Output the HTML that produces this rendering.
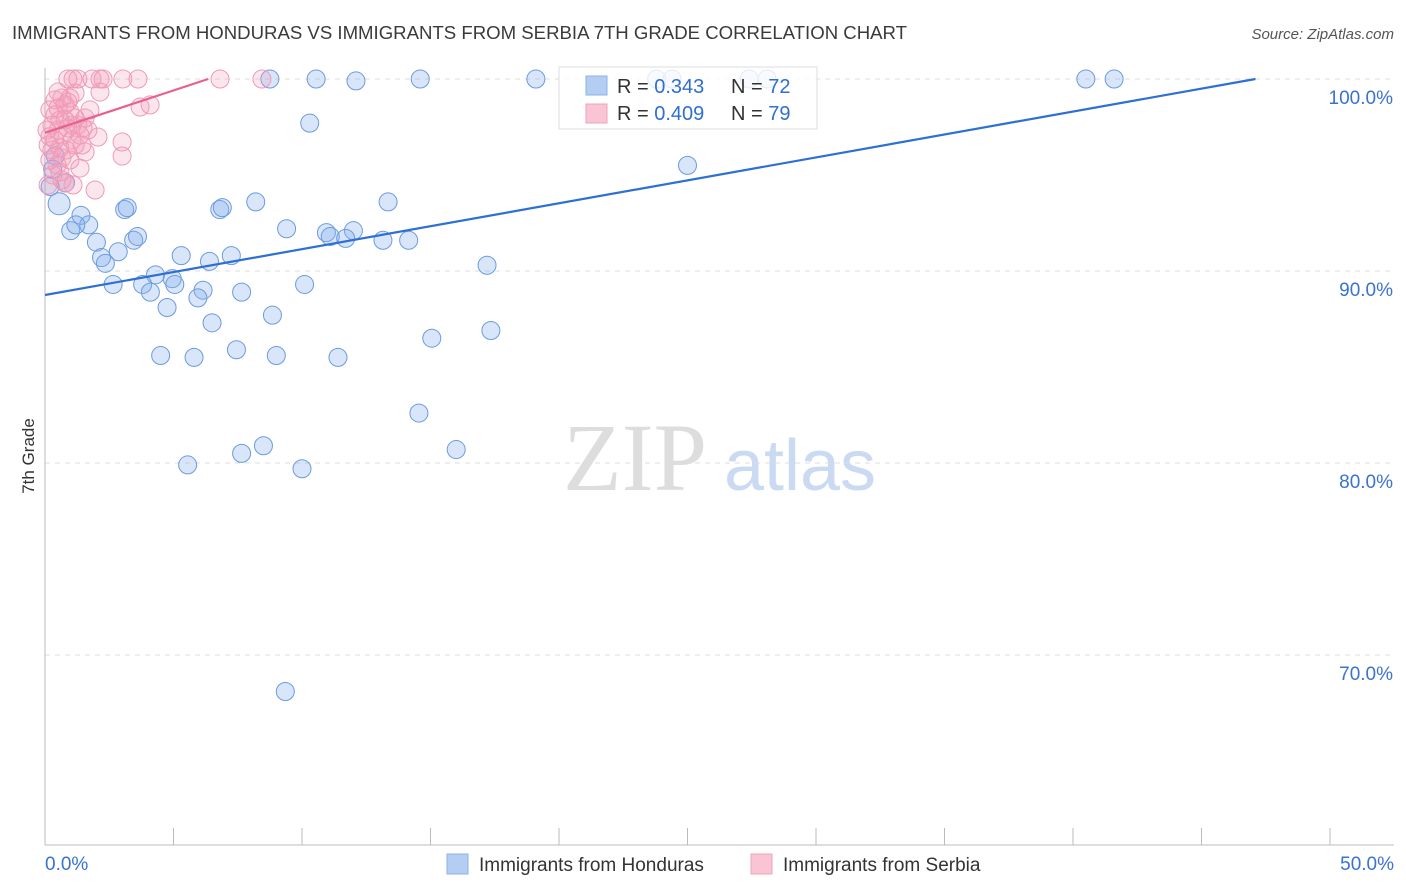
<!DOCTYPE html>
<html><head><meta charset="utf-8"><style>
body{margin:0;background:#fff;font-family:"Liberation Sans",sans-serif;}
svg{display:block}
</style></head><body>
<svg id="chart" width="1406" height="892">
<text x="12" y="39" font-size="18" textLength="895" lengthAdjust="spacingAndGlyphs" fill="#3a3a3a">IMMIGRANTS FROM HONDURAS VS IMMIGRANTS FROM SERBIA 7TH GRADE CORRELATION CHART</text>
<text x="1394" y="39" font-size="15" fill="#555" text-anchor="end" font-style="italic">Source: ZipAtlas.com</text>
<text x="0" y="0" transform="translate(34,456) rotate(-90)" font-size="17" fill="#333" text-anchor="middle">7th Grade</text>
<g><text x="635" y="490" font-size="96" font-family="Liberation Serif,serif" fill="#ddd" text-anchor="middle">ZIP</text><text x="800" y="490" font-size="72" fill="#c9daf2" text-anchor="middle">atlas</text></g>
<g id="grid"></g><g id="axes"></g><g id="pts"></g><g id="lines"></g>
<g>
<rect x="559" y="67" width="258" height="62" fill="rgba(255,255,255,0.8)" stroke="#ddd"/>
<rect x="586" y="76" width="21" height="19" fill="#b4cdf2" stroke="#8fb1e6"/>
<rect x="586" y="104" width="21" height="19" fill="#f9c4d4" stroke="#f0a3bc"/>
<text x="617" y="93" font-size="20" fill="#333">R = <tspan fill="#2f6fd0">0.343</tspan></text>
<text x="731" y="93" font-size="20" fill="#333">N = <tspan fill="#2f6fd0">72</tspan></text>
<text x="617" y="120" font-size="20" fill="#333">R = <tspan fill="#2f6fd0">0.409</tspan></text>
<text x="731" y="120" font-size="20" fill="#333">N = <tspan fill="#2f6fd0">79</tspan></text>
</g>
<g>
<rect x="447" y="854" width="21" height="20" fill="#b4cdf2" stroke="#8fb1e6"/>
<text x="479" y="871" font-size="19" fill="#333">Immigrants from Honduras</text>
<rect x="751" y="854" width="21" height="20" fill="#f9c4d4" stroke="#f0a3bc"/>
<text x="783" y="871" font-size="19" fill="#333">Immigrants from Serbia</text>
</g>
</svg>
<script>
const yTicks=[100,90,80,70];
const yTickLabels=["100.0%","90.0%","80.0%","70.0%"];
const xTickLabels=["0.0%","50.0%"];
const blueX=[8.75,10.55,12.1,14.6,19.1,23.8,24.4,27.4,28.1,40.5,41.6,10.3,25.0,0.55,0.8,1.4,1.0,1.7,1.2,2.0,3.1,3.2,6.8,6.9,8.2,13.35,9.4,10.95,11.1,12.0,11.7,13.15,14.15,3.45,3.6,2.85,2.2,2.35,5.3,6.4,7.25,17.2,4.3,4.95,5.05,3.8,2.65,4.1,6.15,5.95,7.65,10.1,4.75,6.5,8.85,17.35,15.05,7.45,4.5,5.8,9.0,11.4,14.55,8.5,7.65,16.0,5.55,10.0,9.35,0.2,0.4,0.3];
const blueY=[100,100,99.9,100,100,100,100,100,100,100,100,97.7,95.5,93.5,94.6,92.9,92.1,92.4,92.4,91.5,93.2,93.3,93.2,93.3,93.6,93.6,92.2,92.0,91.8,92.1,91.7,91.6,91.6,91.6,91.8,91.0,90.7,90.4,90.8,90.5,90.8,90.3,89.8,89.6,89.3,89.3,89.3,88.9,89.0,88.6,88.9,89.3,88.1,87.3,87.7,86.9,86.5,85.9,85.6,85.5,85.6,85.5,82.6,80.9,80.5,80.7,79.9,79.7,68.1,94.4,96.0,95.3];
const pinkX=[0.89,1.09,1.28,1.83,2.14,2.26,3.03,3.62,6.81,8.44,0.51,1.17,2.14,3.70,4.09,2.06,3.0,3.0,1.56,1.48,1.95,1.36,1.09,0.78,0.19,0.39,0.58,0.78,0.97,1.17,0.27,0.51,0.70,0.89,1.05,1.28,0.39,0.12,0.58,0.82,0.19,0.47,0.66,0.97,0.31,0.12,0.58,1.56,1.36,1.75,0.39,0.66,0.89,1.17,0.08,0.27,0.78,0.51,1.05,0.19,1.44,1.67,0.66,0.97];
const pinkY=[100,100,100,100,100,100,100,100,100,100,99.32,99.27,99.32,98.54,98.65,96.98,96.72,95.99,96.20,97.45,94.22,95.36,94.48,94.58,98.39,98.13,97.86,98.65,98.28,97.97,97.60,97.34,97.08,97.45,96.82,97.60,96.82,96.56,96.41,96.30,95.78,95.52,95.89,95.78,95.0,94.48,95.16,97.97,97.08,98.39,98.91,99.01,98.80,96.56,97.34,96.30,97.86,98.49,97.60,97.0,96.56,97.34,94.74,99.01];
const blueLine=[0,88.75,47.1,100];
const pinkLine=[0,97.2,6.35,100];
const X=v=>45+v*(1285/50), Y=v=>79+(100-v)*19.2;
const NS="http://www.w3.org/2000/svg";
function mk(t,a,p){const e=document.createElementNS(NS,t);for(const k in a)e.setAttribute(k,a[k]);const par=document.getElementById(p);if(p==='pts'){document.getElementById('chart').insertBefore(e,document.getElementById('lines'));}else par.appendChild(e);return e;}
yTicks.forEach((t,i)=>{
 const g=mk('line',{x1:45,x2:1394,y1:Y(t),y2:Y(t),stroke:'#ddd','stroke-dasharray':'5,5'},'grid');
 
 
 const l=mk('text',{x:1393,y:Y(t)+25,'font-size':19,fill:'#3a72d0','text-anchor':'end'},'axes');l.textContent=yTickLabels[i];
 
 
});
const ax=mk('line',{x1:45,x2:45,y1:68,y2:845,stroke:'#bbb'},'axes');


const bx=mk('line',{x1:45,x2:1394,y1:845,y2:845,stroke:'#bbb'},'axes');


for(let i=0;i<=10;i++){const t=mk('line',{x1:X(i*5),x2:X(i*5),y1:828,y2:845,stroke:'#bbb'},'axes');
 
 }
[[0,'start',45],[50,'end',1394]].forEach((d,i)=>{const t=mk('text',{x:d[2],y:870,'font-size':19,fill:'#3a72d0','text-anchor':d[1]},'axes');t.textContent=xTickLabels[i];
 
 });
blueX.forEach((v,i)=>{const c=mk('circle',{cx:X(v),cy:Y(blueY[i]),r:i==13?11:9,fill:'rgba(130,172,236,0.3)',stroke:'#6b9be0','stroke-width':1},'pts');
 
 });
pinkX.forEach((v,i)=>{const c=mk('circle',{cx:X(v),cy:Y(pinkY[i]),r:9,fill:'rgba(245,155,185,0.25)',stroke:'#ef9ab8','stroke-width':1},'pts');
 
 });
const bl=mk('line',{x1:X(blueLine[0]),y1:Y(blueLine[1]),x2:X(blueLine[2]),y2:Y(blueLine[3]),stroke:'#2e6fd6','stroke-width':2.2},'lines');


const pl=mk('line',{x1:X(pinkLine[0]),y1:Y(pinkLine[1]),x2:X(pinkLine[2]),y2:Y(pinkLine[3]),stroke:'#e8608e','stroke-width':2.2},'lines');


</script>
</body></html>
